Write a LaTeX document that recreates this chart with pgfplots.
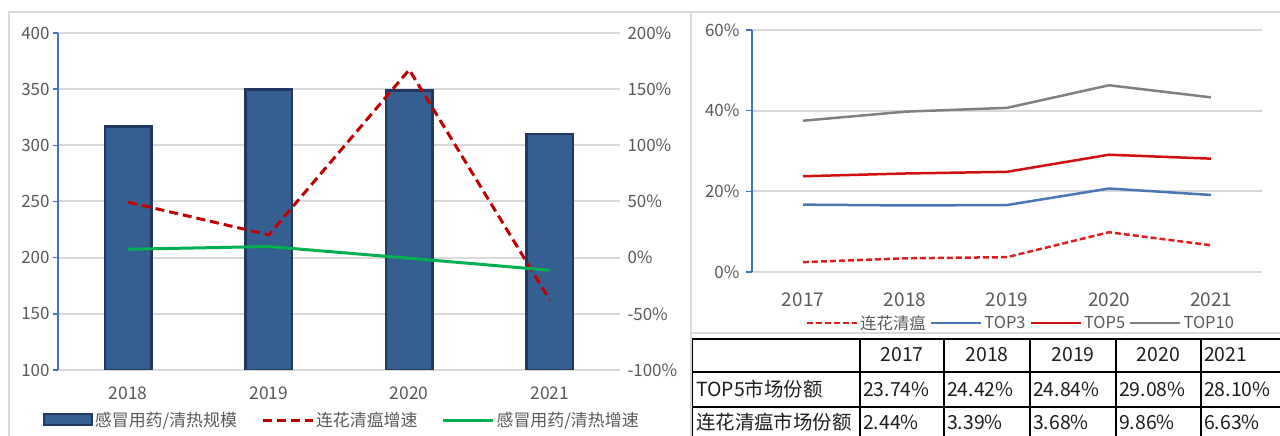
\documentclass[border=0pt]{standalone}
\usepackage{fontspec}
\setmainfont{Noto Sans CJK SC}
\usepackage{pgfplots}
\pgfplotsset{compat=1.18}

\definecolor{barfill}{RGB}{54,95,145}
\definecolor{bardark}{RGB}{33,57,96}
\definecolor{darkred}{RGB}{192,0,0}
\definecolor{lhgreen}{RGB}{0,176,80}
\definecolor{axisblue}{RGB}{68,114,196}
\definecolor{gridgray}{RGB}{217,217,217}
\definecolor{tickgray}{RGB}{89,89,89}
\definecolor{top3blue}{RGB}{74,118,180}
\definecolor{top5red}{RGB}{210,16,16}
\definecolor{top10gray}{RGB}{128,128,128}
\definecolor{lhred}{RGB}{220,30,30}
\definecolor{tabtext}{RGB}{30,30,30}

\pgfplotsset{
  barleg/.style={legend image code/.code={%
      \draw[fill=barfill,draw=bardark,line width=2bp] (0bp,-5bp) rectangle (48bp,6bp);}},
  lineleg/.style={legend image code/.code={%
      \draw[##1] (0bp,0bp) -- (50bp,0bp);}},
  base/.style={
    scale only axis, anchor=south west,
    /pgf/number format/assume math mode=true,
    tick label style={font=\fontsize{17}{17}\selectfont, text=tickgray},
  },
}

\begin{document}
\begin{tikzpicture}
\useasboundingbox (0,0) rectangle (1280bp,436bp);

% panel frames
\draw[gridgray, line width=2bp] (9bp,-5bp) -- (9bp,424bp) -- (1285bp,424bp);
\draw[gridgray, line width=2bp] (690.5bp,-5bp) -- (690.5bp,424bp);
\draw[gridgray, line width=2.5bp] (690.5bp,103bp) -- (1285bp,103bp);

% ---------- left chart: bars ----------
\begin{axis}[base,
  at={(58bp,66bp)}, width=562bp, height=337bp,
  xmin=-0.5, xmax=3.5, ymin=100, ymax=400,
  ytick={100,150,...,400},
  xtick={0,1,2,3}, xticklabels={2018,2019,2020,2021},
  axis x line*=bottom, axis y line*=left,
  x axis line style={draw=none}, xtick style={draw=none},
  y axis line style={draw=axisblue, line width=1.5bp},
  ytick style={draw=axisblue, line width=1.5bp},
  ytick align=outside, major tick length=5bp,
  ymajorgrids, grid style={draw=gridgray, line width=2bp},
  xticklabel style={font=\fontsize{17.5}{17.5}\selectfont, yshift=-13bp},
]
\addplot[ybar, bar width=0.33, fill=barfill, draw=bardark, line width=2.5bp]
  coordinates {(0,316.8) (1,349.5) (2,348.6) (3,310.3)};
\end{axis}

% ---------- left chart: growth lines ----------
\begin{axis}[base,
  at={(58bp,66bp)}, width=562bp, height=337bp,
  xmin=-0.5, xmax=3.5, ymin=-100, ymax=200,
  ytick={-100,-50,...,200},
  yticklabel={\pgfmathprintnumber{\tick}\%},
  axis y line*=right, hide x axis,
  y axis line style={draw=none}, ytick style={draw=none},
  yticklabel style={xshift=4bp},
  legend columns=3,
  legend style={draw=none, fill=none, at={(0.505,-0.149)}, anchor=center,
    font=\fontsize{17}{17}\selectfont, text=tickgray,
    /tikz/every even column/.append style={column sep=22bp}},
  legend cell align=left,
]
\addlegendimage{barleg}
\addlegendentry{感冒用药/清热规模}
\addplot[darkred, line width=3bp, dash pattern=on 9bp off 5bp, lineleg]
  coordinates {(0,49.4) (1,20.3) (2,167.3) (3,-37.6)};
\addlegendentry{连花清瘟增速}
\addplot[lhgreen, line width=3bp, lineleg]
  coordinates {(0,7.5) (1,9.9) (2,-0.5) (3,-11.2)};
\addlegendentry{感冒用药/清热增速}
\end{axis}

% ---------- right chart: market share ----------
\begin{axis}[base,
  at={(752bp,164bp)}, width=510bp, height=242bp,
  xmin=-0.5, xmax=4.5, ymin=0, ymax=60,
  ytick={0,20,40,60},
  yticklabel={\pgfmathprintnumber{\tick}\%},
  xtick={0,...,4}, xticklabels={2017,2018,2019,2020,2021},
  axis x line*=bottom, axis y line*=left,
  x axis line style={draw=none}, xtick style={draw=none},
  y axis line style={draw=axisblue, line width=1.5bp},
  ytick style={draw=axisblue, line width=1.5bp},
  ytick align=outside, major tick length=6bp,
  ymajorgrids, grid style={draw=gridgray, line width=2bp},
  xticklabel style={font=\fontsize{19}{19}\selectfont, yshift=-17bp},
  yticklabel style={xshift=-3bp},
  legend columns=4,
  legend style={draw=none, fill=none, at={(0.527,-0.21)}, anchor=center,
    font=\fontsize{16.5}{16.5}\selectfont, text=tickgray,
    /tikz/every even column/.append style={column sep=2bp}},
  legend cell align=left,
]
\addplot[lhred, line width=2.5bp, dash pattern=on 6bp off 3bp, lineleg]
  coordinates {(0,2.44) (1,3.39) (2,3.68) (3,9.86) (4,6.63)};
\addlegendentry{连花清瘟}
\addplot[top3blue, line width=2.5bp, lineleg]
  coordinates {(0,16.7) (1,16.5) (2,16.6) (3,20.7) (4,19.1)};
\addlegendentry{TOP3}
\addplot[top5red, line width=2.5bp, lineleg]
  coordinates {(0,23.74) (1,24.42) (2,24.84) (3,29.08) (4,28.10)};
\addlegendentry{TOP5}
\addplot[top10gray, line width=2.5bp, lineleg]
  coordinates {(0,37.5) (1,39.75) (2,40.7) (3,46.3) (4,43.3)};
\addlegendentry{TOP10}
\end{axis}

% ---------- table ----------
\begin{scope}[line width=1.6bp, black]
  \foreach \y in {97,64,29} \draw (692bp,\y bp) -- (1285bp,\y bp);
  \foreach \x in {692.5,860,944,1030,1116,1201} \draw (\x bp,97bp) -- (\x bp,-5bp);
\end{scope}
\begin{scope}[every node/.style={inner sep=0pt, text=tabtext, font=\fontsize{19.5}{19.5}\selectfont}]
  \node at (902bp,81bp) {2017};
  \node at (987bp,81bp) {2018};
  \node at (1073bp,81bp) {2019};
  \node at (1158.5bp,81bp) {2020};
  \node[anchor=west] at (1204bp,81bp) {2021};
  \node[anchor=west] at (696bp,47bp) {TOP5市场份额};
  \node[anchor=west] at (863bp,47bp) {23.74\%};
  \node[anchor=west] at (947bp,47bp) {24.42\%};
  \node[anchor=west] at (1033bp,47bp) {24.84\%};
  \node[anchor=west] at (1119bp,47bp) {29.08\%};
  \node[anchor=west] at (1204bp,47bp) {28.10\%};
  \node[anchor=west] at (696bp,14bp) {连花清瘟市场份额};
  \node[anchor=west] at (863bp,14bp) {2.44\%};
  \node[anchor=west] at (947bp,14bp) {3.39\%};
  \node[anchor=west] at (1033bp,14bp) {3.68\%};
  \node[anchor=west] at (1119bp,14bp) {9.86\%};
  \node[anchor=west] at (1204bp,14bp) {6.63\%};
\end{scope}
\end{tikzpicture}
\end{document}
